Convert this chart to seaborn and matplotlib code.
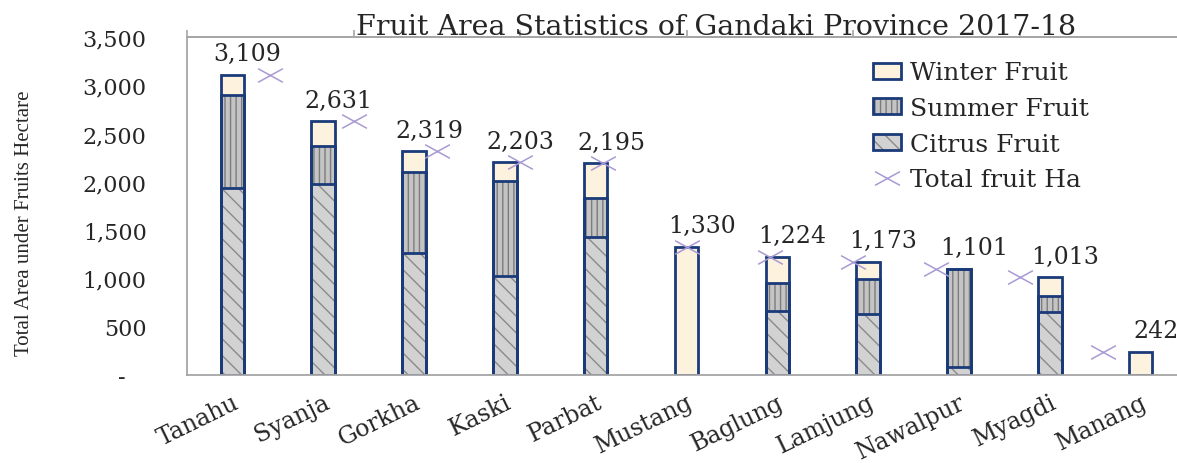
import matplotlib
matplotlib.use("Agg")
import matplotlib.pyplot as plt
import seaborn as sns
import pandas as pd
from matplotlib.path import Path
from matplotlib.patches import Patch
from matplotlib.lines import Line2D

# data (hectare)
districts = ["Tanahu", "Syanja", "Gorkha", "Kaski", "Parbat", "Mustang",
             "Baglung", "Lamjung", "Nawalpur", "Myagdi", "Manang"]
citrus = [1936, 1978, 1263, 1025, 1429, 0, 663, 632, 84, 652, 0]
summer = [963, 393, 839, 984, 404, 0, 290, 362, 1017, 166, 0]
totals = [3109, 2631, 2319, 2203, 2195, 1330, 1224, 1173, 1101, 1013, 242]
y_ticks = [0, 500, 1000, 1500, 2000, 2500, 3000, 3500]
title = "Fruit Area Statistics of Gandaki Province 2017-18"

df = pd.DataFrame({"district": districts, "citrus": citrus,
                   "summer": summer, "total": totals})
df["citrus_summer"] = df["citrus"] + df["summer"]

navy = "#1B3A7A"
cream = "#FDF2DE"
axis_grey = "#A6A6A6"
lav = "#A99AD3"

sns.set_style("white")
plt.rcParams["font.family"] = ["DejaVu Serif"]

fig = plt.figure(figsize=(11.77, 4.64), dpi=100)
W, H = 1177, 464
left, right, top, bottom = 187, 1186, 38, 376
ax = fig.add_axes([left / W, 1 - bottom / H, (right - left) / W, (bottom - top) / H])

bw = 0.26
# stacked bars drawn as overlapping cumulative layers
sns.barplot(data=df, x="district", y="total", color=cream, saturation=1,
            width=bw, errorbar=None, linewidth=0, ax=ax)
sns.barplot(data=df, x="district", y="citrus_summer", color="#C4C4C4", saturation=1,
            width=bw, errorbar=None, linewidth=0, edgecolor="#7C7C7C", hatch="|||", ax=ax)
sns.barplot(data=df, x="district", y="citrus", color="#D2D2D2", saturation=1,
            width=bw, errorbar=None, linewidth=0, edgecolor="#8A8A8A", hatch="\\\\", ax=ax)
for col in ["total", "citrus_summer", "citrus"]:
    sns.barplot(data=df, x="district", y=col, color=navy, fill=False, saturation=1,
                width=bw, errorbar=None, linewidth=2, ax=ax)

ax.set_xlim(-0.5, 10.5)
ax.set_ylim(0, 3500)
ax.set_yticks(y_ticks)
ax.set_yticklabels(["-   " if v == 0 else f"{v:,}" for v in y_ticks])
ax.set_xlabel("")
ax.set_ylabel("")
ax.tick_params(axis="y", direction="out", length=7, width=1.2, color=axis_grey,
               labelsize=16, pad=22)
ax.tick_params(axis="x", length=0, labelsize=17, pad=11)
for lab in ax.get_xticklabels():
    lab.set_rotation(26)
    lab.set_ha("right")
    lab.set_rotation_mode("anchor")
for s in ["left", "bottom", "top"]:
    ax.spines[s].set_color(axis_grey)
    ax.spines[s].set_linewidth(1.3)
ax.spines["right"].set_visible(False)

# data labels
for i, v in enumerate(totals):
    ax.annotate(f"{v:,}", xy=(i, v), xytext=(11, 15), textcoords="offset points",
                ha="center", va="center", fontsize=17)

# total markers sit on a secondary category axis
ax2 = ax.twiny()
xmark = Path([(-1, -0.55), (1, 0.55), (-1, 0.55), (1, -0.55)],
             [Path.MOVETO, Path.LINETO, Path.MOVETO, Path.LINETO])
sns.scatterplot(data=df, x="district", y="total", marker=xmark, s=320,
                color=lav, edgecolor=lav, linewidth=1.1, legend=False, ax=ax2)
ax2.set_xlim(-1, 11)
ax2.set_ylim(0, 3500)
ax2.set_xticks([-1, 1, 3, 5, 7, 9])
ax2.set_xticklabels([])
ax2.set_xlabel("")
ax2.tick_params(axis="x", direction="out", length=5, width=1.2, color=axis_grey)
for s in ["left", "bottom", "right"]:
    ax2.spines[s].set_visible(False)
ax2.spines["top"].set_color(axis_grey)
ax2.spines["top"].set_linewidth(1.3)

fig.text(25 / W, 1 - 223 / H, "Total Area under Fruits Hectare", rotation=90,
         ha="center", va="center", fontsize=15, family=["Liberation Serif"])
fig.text(716 / W, 1 - 35 / H, title, ha="center", va="baseline", fontsize=20.5)

handles = [
    (Patch(facecolor=cream, linewidth=0), Patch(fill=False, edgecolor=navy, linewidth=2)),
    (Patch(facecolor="#C4C4C4", edgecolor="#7C7C7C", hatch="|||", linewidth=0),
     Patch(fill=False, edgecolor=navy, linewidth=2)),
    (Patch(facecolor="#D2D2D2", edgecolor="#8A8A8A", hatch="\\\\", linewidth=0),
     Patch(fill=False, edgecolor=navy, linewidth=2)),
    Line2D([], [], linestyle="none", marker=xmark, markersize=18,
           markeredgecolor=lav, markerfacecolor=lav, markeredgewidth=1.1),
]
labels = ["Winter Fruit", "Summer Fruit", "Citrus Fruit", "Total fruit Ha"]
ax2.legend(handles, labels, loc="upper left", bbox_to_anchor=(860 / W, 1 - 50 / H),
           bbox_transform=fig.transFigure, frameon=False, fontsize=18,
           handlelength=1.15, handleheight=0.6, handletextpad=0.35, labelspacing=0.5,
           borderpad=0)

fig.savefig("out.png", dpi=100)
